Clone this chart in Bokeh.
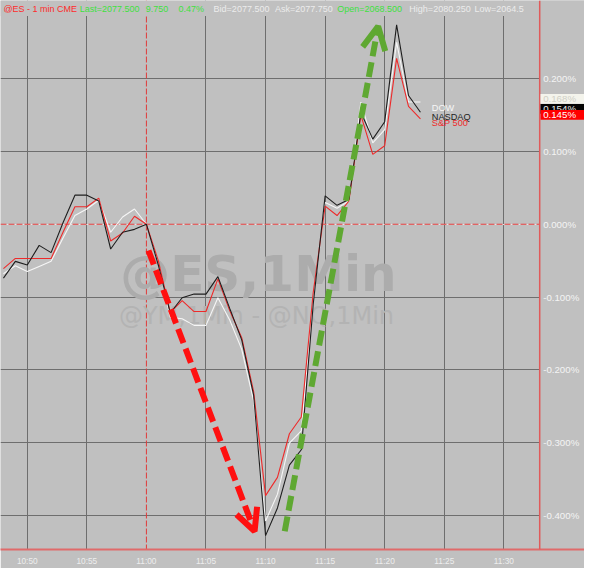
from bokeh.plotting import figure
from bokeh.models import (Range1d, FixedTicker, Span, BoxAnnotation, Label, Arrow, OpenHead, Grid)
from bokeh.core.properties import value
from bokeh.embed import file_html
from bokeh.resources import INLINE

# ---------------- data ----------------
times = ["10:48", "10:49", "10:50", "10:51", "10:52", "10:53", "10:54", "10:55", "10:56",
         "10:57", "10:58", "10:59", "11:00", "11:01", "11:02", "11:03", "11:04", "11:05",
         "11:06", "11:07", "11:08", "11:09", "11:10", "11:11", "11:12", "11:13", "11:14",
         "11:15", "11:16", "11:17", "11:18", "11:19", "11:20", "11:21", "11:22", "11:23"]

dow = [-0.068, -0.057, -0.065, -0.058, -0.051, -0.019, 0.012, 0.021, 0.033,
       -0.011, 0.010, 0.021, 0.000, -0.052, -0.128, -0.130, -0.139, -0.139,
       -0.101, -0.132, -0.172, -0.243, -0.408, -0.371, -0.301, -0.284, -0.103,
       0.030, 0.022, 0.032, 0.168, 0.112, 0.130, 0.250, 0.168, 0.168]

nasdaq = [-0.074, -0.051, -0.056, -0.029, -0.039, 0.002, 0.040, 0.040, 0.032,
          -0.034, -0.011, -0.007, 0.000, -0.056, -0.122, -0.101, -0.096, -0.096,
          -0.072, -0.116, -0.159, -0.235, -0.428, -0.390, -0.331, -0.310, -0.110,
          0.039, 0.026, 0.034, 0.154, 0.117, 0.141, 0.274, 0.177, 0.154]

sp500 = [-0.061, -0.047, -0.047, -0.047, -0.047, -0.011, 0.024, 0.024, 0.036,
         -0.023, -0.012, 0.011, 0.000, -0.050, -0.121, -0.105, -0.120, -0.120,
         -0.075, -0.119, -0.156, -0.230, -0.373, -0.348, -0.288, -0.265, -0.094,
         0.025, 0.012, 0.032, 0.150, 0.096, 0.108, 0.228, 0.162, 0.145]

x_tick_labels = ["10:50", "10:55", "11:00", "11:05", "11:10", "11:15", "11:20", "11:25", "11:30"]
y_ticks = [-0.4, -0.3, -0.2, -0.1, 0.0, 0.1, 0.2]
y_tick_labels = ["-0.400%", "-0.300%", "-0.200%", "-0.100%", "0.000%", "0.100%", "0.200%"]

series_names = ["DOW", "NASDAQ", "S&P 500"]
series_colors = ["#f6f6f6", "#1e1e1e", "#ee2a2a"]

header_items = [
    ("@ES - 1 min", "#ff2a2a"), ("CME", "#ff2a2a"), ("Last=2077.500", "#3ee03e"),
    ("9.750", "#3ee03e"), ("0.47%", "#3ee03e"), ("Bid=2077.500", "#ececec"),
    ("Ask=2077.750", "#ececec"), ("Open=2068.500", "#3ee03e"),
    ("High=2080.250", "#ececec"), ("Low=2064.5", "#ececec"),
]
header_x = [48.0, 52.50, 54.41, 59.95, 62.70, 65.64, 70.79, 76.02, 82.07, 87.54]

# annotation arrows (start/end in time-minutes, percent)
red_arrow = (60.17, -0.036, 69.08, -0.422)
green_arrow = (71.61, -0.422, 79.45, 0.272)


def to_min(t):
    h, m = t.split(":")
    return (int(h) - 10) * 60 + int(m)


x = [to_min(t) for t in times]
x_tick_vals = [to_min(t) for t in x_tick_labels]

bg = "#c0c0c0"
grid_c = "#6e6e6e"
X0, X_AXIS, X1 = 47.753, 93.01, 96.77
Y0, Y1 = -0.4471, 0.3076

p = figure(width=584, height=568,
           x_range=Range1d(X0, X1), y_range=Range1d(Y0, Y1),
           y_axis_location=None, toolbar_location=None, output_backend="svg",
           min_border_left=0, min_border_top=0, min_border_right=0, min_border_bottom=17,
           background_fill_color=bg, border_fill_color=bg, outline_line_color=None)

# grids
p.xgrid.ticker = FixedTicker(ticks=[v for v in x_tick_vals if v != 60])
p.xgrid.grid_line_color = grid_c
p.xgrid.grid_line_width = 1
p.add_layout(Grid(dimension=1, ticker=FixedTicker(ticks=[v for v in y_ticks if v != 0.0]),
                  grid_line_color=grid_c, grid_line_width=1))

p.add_layout(Span(location=60, dimension="height", line_color="#e03a3a", line_width=1,
                  line_dash="6 2", level="underlay"))
p.add_layout(Span(location=0.0, dimension="width", line_color="#e03a3a", line_width=1,
                  line_dash="6 2", level="underlay"))

# price-scale area (right of the value axis) and header band
p.add_layout(BoxAnnotation(left=X_AXIS, fill_color=bg, fill_alpha=1.0, line_alpha=0, level="glyph"))
p.add_layout(BoxAnnotation(bottom=0.2863, fill_color=bg, fill_alpha=1.0, line_alpha=0, level="glyph"))

# value axis line
p.add_layout(Span(location=X_AXIS, dimension="height", line_color="#e05a5a", line_width=1.5,
                  level="annotation"))

# bottom axis
xa = p.xaxis[0]
xa.ticker = FixedTicker(ticks=x_tick_vals)
xa.major_label_overrides = {v: l for v, l in zip(x_tick_vals, x_tick_labels)}
xa.axis_line_color = "#e06a6a"
xa.axis_line_width = 2
xa.major_tick_in = 0
xa.major_tick_out = 0
xa.minor_tick_line_color = None
xa.major_label_text_color = "#eeeeee"
xa.major_label_text_font = "Liberation Sans"
xa.major_label_text_font_size = "8.3px"
xa.major_label_standoff = 6

# watermark
p.text(x=[69.40], y=[-0.0684], text=["@ES,1Min"], text_font=value("DejaVu Sans"),
       text_font_style="bold", text_font_size="50px", text_color="#acacac",
       text_align="center", text_baseline="alphabetic")
p.text(x=[69.24], y=[-0.1257], text=["@YM,1Min - @NQ,1Min"], text_font=value("DejaVu Sans"),
       text_font_size="24px", text_color="#b3b3b3",
       text_align="center", text_baseline="alphabetic")

# series lines (white, red, black order)
for vals, col in [(dow, series_colors[0]), (sp500, series_colors[2]), (nasdaq, series_colors[1])]:
    p.line(x, vals, line_color=col, line_width=1.1)

# arrows
p.add_layout(Arrow(end=OpenHead(size=22, line_color="#ff1010", line_width=6),
                   x_start=red_arrow[0], y_start=red_arrow[1],
                   x_end=red_arrow[2], y_end=red_arrow[3],
                   line_color="#ff1010", line_width=6, line_dash="15 6"))
p.add_layout(Arrow(end=OpenHead(size=23, line_color="#5fa832", line_width=6),
                   x_start=green_arrow[0], y_start=green_arrow[1],
                   x_end=green_arrow[2], y_end=green_arrow[3],
                   line_color="#5fa832", line_width=6, line_dash="15 6"))

# header texts
for (txt, col), hx in zip(header_items, header_x):
    p.add_layout(Label(x=hx, y=0.2963, text=txt, text_color=col, text_font="Liberation Sans",
                       text_font_size="9px", text_baseline="middle"))

# legend texts
for name, col, ly in zip(series_names, series_colors, [0.160, 0.1476, 0.1396]):
    p.add_layout(Label(x=83.95, y=ly, text=name, text_color=col, text_font="Liberation Sans",
                       text_font_size="9.2px", text_baseline="middle"))

# value-axis tick labels
for yv, lab in zip(y_ticks, y_tick_labels):
    p.add_layout(Label(x=93.30, y=yv, text=lab, text_color="#f4f4f4", text_font="Liberation Sans",
                       text_font_size="9.7px", text_baseline="middle"))

# last value boxes (white, black, red), nudged up so they stack
last_vals = [dow[-1], nasdaq[-1], sp500[-1]]
box_fill = ["#f4f4ec", "#050505", "#ff0000"]
box_text = ["#d0d0c6", "#f0f0f0", "#ffffff"]
nudges = [0.0045, 0.0045, 0.0055]
half_h = 0.0067
for v, fc, tc, nd in zip(last_vals, box_fill, box_text, nudges):
    c = v + nd
    p.add_layout(BoxAnnotation(left=93.08, bottom=c - half_h, top=c + half_h,
                               fill_color=fc, fill_alpha=1.0, line_alpha=0, level="annotation"))
    p.add_layout(Label(x=93.30, y=c, text="%.3f%%" % v, text_color=tc, text_font="Liberation Sans",
                       text_font_size="9.7px", text_baseline="middle"))

open("out.html", "w").write(file_html(p, INLINE))
